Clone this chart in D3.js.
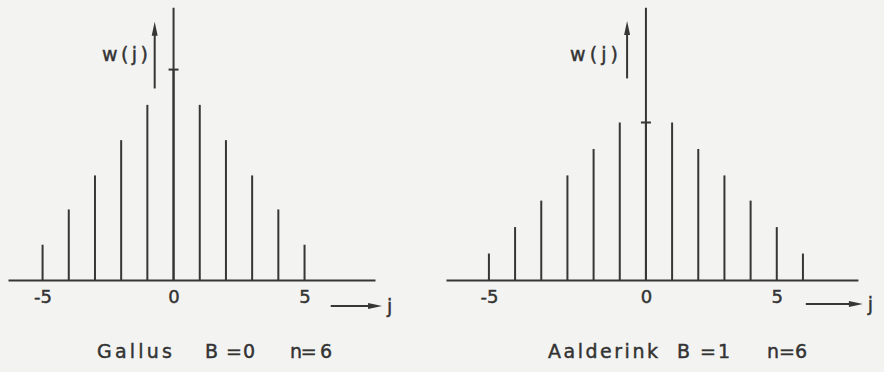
<!DOCTYPE html>
<html>
<head>
<meta charset="utf-8">
<script src="https://cdn.jsdelivr.net/npm/d3@7"></script>
<style>
  html, body { margin: 0; padding: 0; background: #f3f3f2; }
  svg { display: block; }
  text { font-family: "DejaVu Sans", sans-serif; fill: #333; stroke: #333; stroke-width: 0.45px; }
</style>
</head>
<body>
<svg id="chart" width="884" height="372"></svg>
<script>
// ---- data ----
const jGallus = [-5, -4, -3, -2, -1, 0, 1, 2, 3, 4, 5];
const wGallus = [0.028, 0.056, 0.083, 0.111, 0.139, 0.167, 0.139, 0.111, 0.083, 0.056, 0.028];
const jAalderink = [-6, -5, -4, -3, -2, -1, 0, 1, 2, 3, 4, 5, 6];
const wAalderink = [0.021, 0.042, 0.063, 0.083, 0.104, 0.125, 0.125, 0.125, 0.104, 0.083, 0.063, 0.042, 0.021];
const tickPosGallus = [-5, 0, 5];
const tickLabelGallus = ["-5", "0", "5"];
const tickPosAalderink = [-6, 0, 5];
const tickLabelAalderink = ["-5", "0", "5"];
const captionGallus = ["Gallus", "B =0", "n= 6"];
const captionAalderink = ["Aalderink", "B =1", "n=6"];

const ink = "#363636";
const svg = d3.select("#chart");

const y = d3.scaleLinear().domain([0, 0.2]).range([280, 28]);

function panel(cfg) {
  const x = d3.scaleLinear().domain(cfg.xDomain).range(cfg.xRange);
  const g = svg.append("g");

  // baseline + tick labels via d3 axis
  const ax = d3.axisBottom(x)
    .tickValues(cfg.tickPos)
    .tickFormat((d, i) => cfg.tickLabels[i])
    .tickSize(0).tickSizeOuter(0).tickPadding(10);
  const axG = g.append("g").attr("transform", `translate(0,${y(0)})`).call(ax);
  axG.select(".domain").attr("stroke", ink).attr("stroke-width", 2);
  axG.selectAll("text").attr("font-size", 18).attr("fill", "#333")
     .style("font-family", "DejaVu Sans, sans-serif");

  // vertical axis (through j = 0)
  g.append("line")
    .attr("x1", x(0)).attr("x2", x(0))
    .attr("y1", y(0)).attr("y2", y(0.216))
    .attr("stroke", ink).attr("stroke-width", 2);

  // stems
  g.selectAll("line.stem").data(cfg.j).enter().append("line")
    .attr("class", "stem")
    .attr("x1", d => x(d)).attr("x2", d => x(d))
    .attr("y1", y(0)).attr("y2", (d, i) => y(cfg.w[i]))
    .attr("stroke", ink).attr("stroke-width", 2);

  // tick marking w(0)
  const w0 = cfg.w[cfg.j.indexOf(0)];
  g.append("line")
    .attr("x1", x(0) - 5).attr("x2", x(0) + 5)
    .attr("y1", y(w0)).attr("y2", y(w0))
    .attr("stroke", ink).attr("stroke-width", 2);

  // w(j) arrow
  const ax0 = x(-0.72);
  const yb = y(cfg.wArrow[0]), yt = y(cfg.wArrow[1]);
  g.append("line").attr("x1", ax0).attr("x2", ax0)
    .attr("y1", yb).attr("y2", yt + 10)
    .attr("stroke", ink).attr("stroke-width", 2);
  g.append("path")
    .attr("d", `M${ax0},${yt} L${ax0 - 3},${yt + 14} L${ax0 + 3},${yt + 14} Z`)
    .attr("fill", ink);
  g.append("text").attr("x", cfg.wText[0]).attr("y", 61)
    .attr("font-size", 19).attr("textLength", cfg.wText[1])
    .attr("lengthAdjust", "spacing").text("w(j)");

  // j arrow
  const jx0 = x(cfg.jArrow[0]), jx1 = x(cfg.jArrow[1]), jy = cfg.jArrowY;
  g.append("line").attr("x1", jx0).attr("x2", jx1 - 10)
    .attr("y1", jy).attr("y2", jy)
    .attr("stroke", ink).attr("stroke-width", 2);
  g.append("path")
    .attr("d", `M${jx1},${jy} L${jx1 - 14},${jy - 3} L${jx1 - 14},${jy + 3} Z`)
    .attr("fill", ink);
  g.append("text").attr("x", jx1 + 5).attr("y", jy + 7)
    .attr("font-size", 19).text("j");

  // caption
  cfg.caption.forEach((t, i) => {
    g.append("text")
      .attr("x", cfg.capX[i]).attr("y", 358)
      .attr("font-size", 19)
      .attr("textLength", cfg.capW[i]).attr("lengthAdjust", "spacing")
      .text(t);
  });
}

panel({
  j: jGallus, w: wGallus,
  xDomain: [-6.32, 7.69], xRange: [8, 375],
  tickPos: tickPosGallus, tickLabels: tickLabelGallus,
  wArrow: [0.152, 0.205], wText: [102, 46],
  jArrow: [6.0, 7.96], jArrowY: 306,
  caption: captionGallus, capX: [97, 205, 290], capW: [75, 50, 42]
});

panel({
  j: jAalderink, w: wAalderink,
  xDomain: [-7.64, 8.1], xRange: [446, 857.9],
  tickPos: tickPosAalderink, tickLabels: tickLabelAalderink,
  wArrow: [0.160, 0.2056], wText: [570, 48],
  jArrow: [6.11, 8.29], jArrowY: 304,
  caption: captionAalderink, capX: [548, 677, 767], capW: [110, 53, 40]
});
</script>
</body>
</html>
